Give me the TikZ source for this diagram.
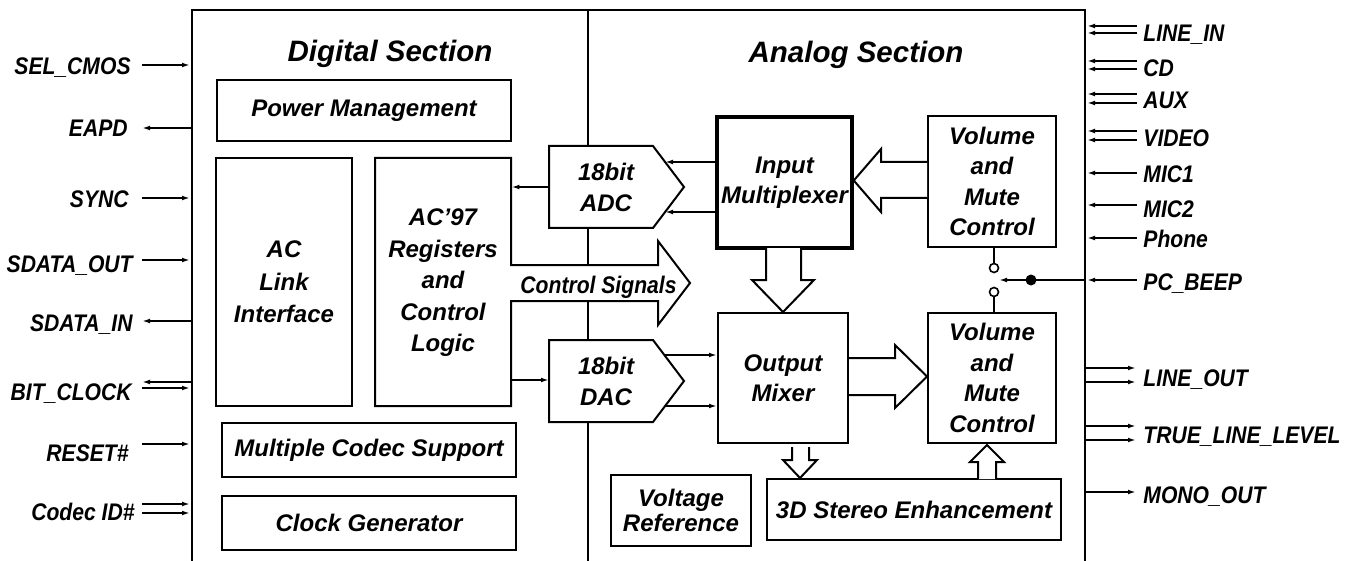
\documentclass[tikz,border=0pt]{standalone}
\usepackage{fontspec}
\setmainfont{Liberation Sans}
\newfontfamily\narrowfont[FakeStretch=0.88]{Liberation Sans}
\usetikzlibrary{arrows.meta}
\begin{document}
\begin{tikzpicture}[x=0.5pt,y=-0.5pt,
  txt/.style={font=\bfseries\itshape\fontsize{12}{15.5}\selectfont, align=center, inner sep=0},
  narrow/.style={font=\narrowfont\bfseries\itshape\fontsize{12}{15}\selectfont, inner sep=0},
  ttl/.style={font=\bfseries\itshape\fontsize{14.75}{18}\selectfont, inner sep=0},
  blk/.style={draw, line width=1pt, fill=white, inner sep=0, align=center,
              font=\bfseries\itshape\fontsize{12}{15.5}\selectfont},
  sig/.style={line width=0.8pt, -{Latex[length=4pt,width=2.4pt]}},
  fat/.style={draw, line width=1pt, line join=miter, fill=white},
  frame/.style={line width=1.3pt}
]
\useasboundingbox (0,0) rectangle (1353,561);

% frame and divider
\draw[frame] (192,561) -- (192,10) -- (1085,10) -- (1085,561);
\draw[frame] (588,10) -- (588,561);

% titles
\node[ttl, anchor=base] (tdig) at (390,62) {Digital Section};
\node[ttl, anchor=base] (tana) at (856,63) {Analog Section};

% digital blocks
\node[blk, minimum width=147pt, minimum height=30.5pt] (pm) at (364,110.5) {Power Management};
\node[blk, minimum width=68pt, minimum height=124pt, font=\bfseries\itshape\fontsize{12}{16.25}\selectfont] (acl) at (284,282) {AC\\Link\\Interface};
\node[blk, minimum width=147pt, minimum height=27pt] (mcs) at (369,450) {Multiple Codec Support};
\node[blk, minimum width=147pt, minimum height=27pt] (clk) at (369,523) {Clock Generator};

% AC97 registers outline merged with the control-signals arrow
\draw[fat] (511,265) -- (658,265) -- (658,241) -- (690,283) -- (658,325) -- (658,301)
  -- (511,301) -- (511,406) -- (375,406) -- (375,158) -- (511,158) -- cycle;
\node[txt, minimum width=68pt, minimum height=124pt, font=\bfseries\itshape\fontsize{12}{15.75}\selectfont] (ac97) at (443,283) {AC'97\\Registers\\and\\Control\\Logic};
\node[narrow, anchor=base] (cs) at (598.5,293) {Control Signals};

% ADC and DAC
\draw[fat] (549,146) -- (653,146) -- (684,187) -- (653,228) -- (549,228) -- cycle;
\node[txt] (adc) at (606,187) {18bit\\ADC};
\draw[fat] (549,340) -- (653,340) -- (684,381) -- (653,422) -- (549,422) -- cycle;
\node[txt] (dac) at (606,381) {18bit\\DAC};

% analog blocks
\node[blk, line width=1.75pt, minimum width=67.5pt, minimum height=65.5pt, font=\bfseries\itshape\fontsize{12}{15}\selectfont] (mux) at (784.5,182.5) {Input\\Multiplexer};
\node[blk, minimum width=64pt, minimum height=65.5pt, font=\bfseries\itshape\fontsize{12}{15.25}\selectfont] (vol1) at (992,181.5) {Volume\\and\\Mute\\Control};
\node[blk, minimum width=65pt, minimum height=65pt, font=\bfseries\itshape\fontsize{12}{15}\selectfont] (mix) at (783,378) {Output\\Mixer};
\node[blk, minimum width=64pt, minimum height=65pt, font=\bfseries\itshape\fontsize{12}{15.25}\selectfont] (vol2) at (992,378) {Volume\\and\\Mute\\Control};
\node[blk, minimum width=147pt, minimum height=30.5pt] (sse) at (914,509.5) {3D Stereo Enhancement};
\node[blk, minimum width=70pt, minimum height=35.5pt, font=\bfseries\itshape\fontsize{12}{12.5}\selectfont] (vref) at (681,510.5) {Voltage\\Reference};

% thin internal signals
\coordinate (adcW) at (549,187);
\draw[sig] (adcW) -- (ac97.east |- adcW);
\coordinate (adcA) at (665,162);
\coordinate (adcB) at (665,212);
\draw[sig] (mux.west |- adcA) -- (adcA);
\draw[sig] (mux.west |- adcB) -- (adcB);
\coordinate (dacW) at (549,380);
\draw[sig] (ac97.east |- dacW) -- (dacW);
\coordinate (dacA) at (664,355);
\coordinate (dacB) at (665,406);
\draw[sig] (dacA) -- (mix.west |- dacA);
\draw[sig] (dacB) -- (mix.west |- dacB);

% hollow arrows
\draw[fat] (vol1.west |- 0,162) -- (881,162) -- (881,149) -- (mux.east |- 0,180.5) -- (881,212) -- (881,198) -- (vol1.west |- 0,198);
\draw[fat] (766,248) -- (766,280) -- (752,280) -- (mix.north) -- (814,280) -- (801,280) -- (801,248);
\draw[fat] (mix.east |- 0,358) -- (895,358) -- (895,345) -- (vol2.west |- 0,376.5) -- (895,408) -- (895,395) -- (mix.east |- 0,395);
\draw[fat] (792,447) -- (792,460) -- (783,460) -- (sse.north -| 800,0) -- (817,460) -- (809,460) -- (809,447);
\draw[fat] (978,479) -- (978,462) -- (970,462) -- (987,445) -- (1004,462) -- (996,462) -- (996,479);

% switch and PC_BEEP
\node[circle, draw, fill=white, line width=0.8pt, minimum size=4.5pt, inner sep=0] (sw1) at (994,268) {};
\node[circle, draw, fill=white, line width=0.8pt, minimum size=4.5pt, inner sep=0] (sw2) at (994,292) {};
\draw[line width=0.9pt] (sw1.north) -- (sw1.north |- vol1.south);
\draw[line width=0.9pt] (sw2.south) -- (sw2.south |- vol2.north);
\coordinate (pcIn) at (1085,280);
\coordinate (pcTip) at (999,280);
\draw[sig] (pcIn) -- (pcTip);
\node[circle, fill, inner sep=0, minimum size=5.5pt] (dot) at (1031,280) {};

% left pins
\foreach \y/\n in {65/a,198/b,260/c,388/d,444/e,504/f,513/g} {
  \coordinate (Ls\n) at (142,\y); \coordinate (Lf\n) at (190,\y);
  \draw[sig] (Ls\n) -- (Lf\n);
}
\foreach \y/\n in {128/a,321/b,382/c} {
  \coordinate (Os\n) at (191,\y); \coordinate (Of\n) at (142,\y);
  \draw[sig] (Os\n) -- (Of\n);
}
\node[narrow, anchor=base east] (pSEL) at (131,75) {SEL\_CMOS};
\node[narrow, anchor=base east] (pEAPD) at (128,137) {EAPD};
\node[narrow, anchor=base east] (pSYNC) at (129,207) {SYNC};
\node[narrow, anchor=base east] (pSDO) at (133,272) {SDATA\_OUT};
\node[narrow, anchor=base east] (pSDI) at (133,331) {SDATA\_IN};
\node[narrow, anchor=base east] (pBIT) at (132,400) {BIT\_CLOCK};
\node[narrow, anchor=base east] (pRST) at (129,461) {RESET\#};
\node[narrow, anchor=base east] (pCID) at (135,520) {Codec ID\#};

% right pins
\foreach \y/\n in {26/a,33/b,61/c,69/d,94/e,103/f,131/g,140/h,173/i,205/j,238/k,280/l} {
  \coordinate (Rs\n) at (1137,\y); \coordinate (Rf\n) at (1087,\y);
  \draw[sig] (Rs\n) -- (Rf\n);
}
\foreach \y/\n in {368/a,382/b,426/c,440/d,492/e} {
  \coordinate (Qs\n) at (1086,\y); \coordinate (Qf\n) at (1136,\y);
  \draw[sig] (Qs\n) -- (Qf\n);
}
\node[narrow, anchor=base west] (rLI) at (1143,42) {LINE\_IN};
\node[narrow, anchor=base west] (rCD) at (1143,77) {CD};
\node[narrow, anchor=base west] (rAUX) at (1143,109) {AUX};
\node[narrow, anchor=base west] (rVID) at (1143,147) {VIDEO};
\node[narrow, anchor=base west] (rM1) at (1143,183) {MIC1};
\node[narrow, anchor=base west] (rM2) at (1143,218) {MIC2};
\node[narrow, anchor=base west] (rPH) at (1143,248) {Phone};
\node[narrow, anchor=base west] (rPC) at (1143,290) {PC\_BEEP};
\node[narrow, anchor=base west] (rLO) at (1143,386) {LINE\_OUT};
\node[narrow, anchor=base west] (rTL) at (1143,443) {TRUE\_LINE\_LEVEL};
\node[narrow, anchor=base west] (rMO) at (1143,503) {MONO\_OUT};
\end{tikzpicture}
\end{document}
